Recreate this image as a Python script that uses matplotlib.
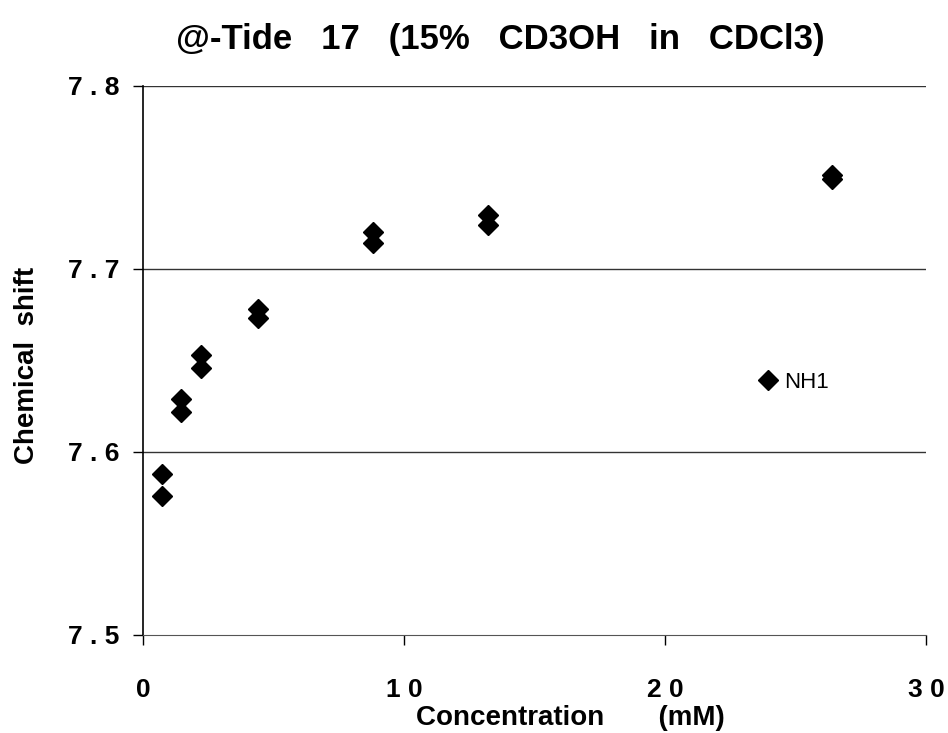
import numpy as np
import matplotlib.pyplot as plt

# concentration (mM) and chemical shift (ppm)
conc = [0.73, 0.73, 1.46, 1.46, 2.2, 2.2, 4.4, 4.4, 8.8, 8.8, 13.2, 13.2, 26.4, 26.4]
shift = [7.588, 7.576, 7.629, 7.622, 7.653, 7.646, 7.678, 7.673,
         7.720, 7.714, 7.7295, 7.724, 7.751, 7.749]

xticks = [0, 10, 20, 30]
xlabels = ["0", "1 0", "2 0", "3 0"]
yticks = [7.5, 7.6, 7.7, 7.8]
ylabels = ["7 . 5", "7 . 6", "7 . 7", "7 . 8"]

plt.rcParams['font.family'] = ['Liberation Sans', 'DejaVu Sans']

fig = plt.figure(figsize=(9.48, 7.33), dpi=100)
ax = fig.add_axes([0.151, 0.134, 0.826, 0.749])

ax.plot(conc, shift, 'D', color='black', markersize=10, linestyle='none',
        label='NH1')

ax.set_xlim(0, 30)
ax.set_ylim(7.5, 7.8)
ax.set_xticks(xticks)
ax.set_xticklabels(xlabels, fontsize=19, fontweight='heavy')
ax.set_yticks(yticks)
ax.set_yticklabels(ylabels, fontsize=19, fontweight='heavy')
ax.tick_params(direction='out', length=7, width=1)
ax.tick_params(axis='x', pad=24)
ax.tick_params(axis='y', pad=10)

# horizontal grid lines only
for y in yticks[1:]:
    ax.axhline(y, color='#333333', linewidth=1, zorder=0)

ax.spines['top'].set_visible(False)
ax.spines['right'].set_visible(False)
ax.spines['left'].set_linewidth(1.2)
ax.spines['bottom'].set_color('#555555')

ax.set_xlabel("Concentration       (mM)", fontsize=20, fontweight='heavy')
ax.xaxis.set_label_coords(0.545, -0.128)
ax.set_ylabel("Chemical  shift", fontsize=20, fontweight='heavy')
ax.yaxis.set_label_coords(-0.132, 0.49)

fig.text(500 / 948, 1 - 40 / 733, "@-Tide   17   (15%   CD3OH   in   CDCl3)",
         fontsize=25, fontweight='heavy', ha='center', va='center')

ax.legend(loc=(0.77, 0.425), frameon=False, fontsize=16,
          handletextpad=0.1, handlelength=1.2)

fig.savefig("out.png", dpi=100)
